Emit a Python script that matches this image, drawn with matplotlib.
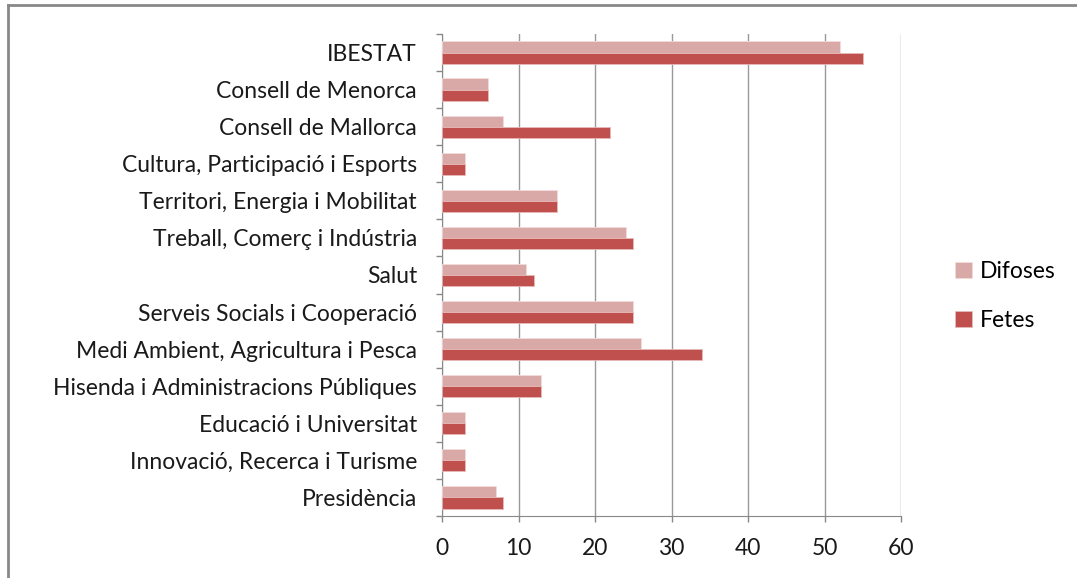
# bar chart: Difoses vs Fetes per department
import matplotlib
matplotlib.use('Agg')
import matplotlib.pyplot as plt
from matplotlib.lines import Line2D
import numpy as np

plt.rcParams['font.family'] = ['Lato', 'DejaVu Sans']

categories = ['Presidència', 'Innovació, Recerca i Turisme', 'Educació i Universitat',
              'Hisenda i Administracions Públiques', 'Medi Ambient, Agricultura i Pesca',
              'Serveis Socials i Cooperació', 'Salut', 'Treball, Comerç i Indústria',
              'Territori, Energia i Mobilitat', 'Cultura, Participació i Esports',
              'Consell de Mallorca', 'Consell de Menorca', 'IBESTAT']
difoses = [7, 3, 3, 13, 26, 25, 11, 24, 15, 3, 8, 6, 52]
fetes = [8, 3, 3, 13, 34, 25, 12, 25, 15, 3, 22, 6, 55]
xticks = [0, 10, 20, 30, 40, 50, 60]

fig = plt.figure(figsize=(10.77, 5.78), dpi=100)
ax = fig.add_axes([0.4104, 0.1073, 0.4262, 0.8339])

y = np.arange(len(categories))
ax.barh(y + 0.15, difoses, height=0.3, color='#D9A9A8', edgecolor='#F2DCDB', linewidth=0.6, label='Difoses', zorder=3)
ax.barh(y - 0.15, fetes, height=0.3, color='#C0504D', edgecolor='#E6B9B8', linewidth=0.6, label='Fetes', zorder=3)

ax.set_xlim(0, 60)
ax.set_ylim(-0.5, len(categories) - 0.5)
ax.set_xticks(xticks)
ax.set_xticklabels([str(v) for v in xticks], fontsize=16.5, color='#1a1a1a')
ax.set_yticks(y)
ax.set_yticklabels(categories, fontsize=16.5, color='#1a1a1a')
ax.set_yticks(np.arange(-0.5, len(categories), 1), minor=True)
ax.tick_params(axis='y', which='major', length=0, pad=18)
ax.tick_params(axis='y', which='minor', length=4.5, color='#888888', width=1)
ax.tick_params(axis='x', length=4.5, color='#888888', width=1, pad=11)

ax.grid(axis='x', color='#999999', linewidth=1, zorder=0)
ax.spines['top'].set_visible(False)
ax.spines['right'].set_visible(False)
ax.spines['left'].set_color('#888888')
ax.spines['bottom'].set_color('#888888')

handles, labels = ax.get_legend_handles_labels()
fig.legend(handles, labels, loc='center left', bbox_to_anchor=(0.868, 0.488), frameon=False,
           fontsize=16.5, handlelength=0.7, handleheight=0.7, handletextpad=0.35,
           labelspacing=1.2)

# outer chart frame (top and left edges only visible)
fig.add_artist(Line2D([8 / 1077, 1], [1 - 4.5 / 578, 1 - 4.5 / 578], color='#888888', linewidth=2))
fig.add_artist(Line2D([8 / 1077, 8 / 1077], [0, 1 - 4.5 / 578], color='#888888', linewidth=2))

plt.savefig('out.png', dpi=100)
